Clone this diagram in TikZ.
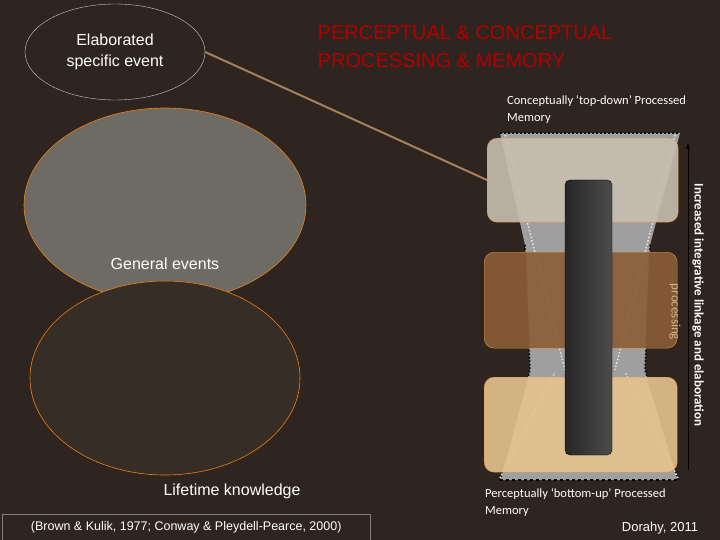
\documentclass[tikz,border=0pt]{standalone}
\usepackage{fontspec}
\usetikzlibrary{shapes.geometric}
\setmainfont{Liberation Sans}
\newfontfamily\cond{Carlito}
\begin{document}
\begin{tikzpicture}[x=1pt,y=-1pt,
  lbl/.style={text=white,font=\fontsize{16}{21}\selectfont,align=center},
  small/.style={text=white,font=\cond\fontsize{12.5}{17}\selectfont,align=left,anchor=north west,inner sep=0},
  lay/.style={rounded corners=10pt,draw=orange!60!brown!80!white,opacity=0.9}]
\definecolor{bg}{HTML}{2E2420}
\definecolor{gev}{HTML}{6E6A64}
\definecolor{ltk}{HTML}{372D27}
\definecolor{bxa}{HTML}{C7BFB0}
\definecolor{bxb}{HTML}{8B5E36}
\definecolor{bxc}{HTML}{E6C38E}
\fill[bg] (0,0) rectangle (720,540);
\useasboundingbox (0,0) rectangle (720,540);
% left ellipses
\node[ellipse,draw=white!75!bg,fill=bg,minimum width=180,minimum height=96,lbl] (es) at (115,52) {Elaborated\\specific event};
\node[ellipse,draw=orange!70!brown,fill=gev,minimum width=282,minimum height=194,line width=0.6pt] (ge) at (165,205) {};
\node[lbl] (get) at (165,264) {General events};
\node[ellipse,draw=orange!70!brown,fill=ltk,minimum width=270,minimum height=194,line width=0.6pt] (lk) at (165,378) {};
\node[lbl] (lkt) at (232,491) {Lifetime knowledge};
\node[draw=gray,text=white,font=\fontsize{12.5}{14}\selectfont,minimum width=368,minimum height=26,anchor=north west] (cite) at (2,514) {(Brown \& Kulik, 1977; Conway \& Pleydell-Pearce, 2000)};
\node[text=red!70!black,font=\fontsize{20}{28}\selectfont,align=left] (title) at (465,47) {PERCEPTUAL \& CONCEPTUAL\\PROCESSING \& MEMORY};
% right diagram
\coordinate (lt) at (487,180);
\fill[gray!75] (500,133)--(680,133)--(650,245)--(645,370)--(678,480)--(500,480)--(530,370)--(525,245)--cycle;
\draw[black,dotted,line width=2pt] (500,133)--(680,133);
\draw[black,dashed,line width=2pt] (500,480)--(678,480);
\draw[black,dotted,line width=1.5pt] (525,245)--(530,370)--(500,480);
\draw[black,dotted,line width=1.5pt] (650,245)--(645,370)--(678,480);
\draw[white!80!gray,dotted,line width=1.5pt] (505,135)--(565,370) (675,135)--(615,370);
\draw[white!80!gray,dotted,line width=1.5pt] (500,478)--(555,372) (678,478)--(625,372);
\node[lay,fill=bxa,minimum width=191,minimum height=84,anchor=north west] (b1) at (487,138) {};
\node[lay,fill=bxb,minimum width=193,minimum height=96,anchor=north west] (b2) at (484,252) {};
\node[lay,fill=bxc,minimum width=193,minimum height=95,anchor=north west] (b3) at (484,377) {};
\draw[draw=brown!60!gray,line width=2pt] (es.east) -- (lt);
\shade[left color=black!85,right color=black!70,rounded corners=5pt,draw=black] (565,180) rectangle (612,455);
\coordinate (ab) at (688,470); \coordinate (at) at (688,143);
\draw[-latex,black,line width=1pt] (ab)--(at);
\node[rotate=-90,text=white,font=\cond\bfseries\fontsize{13}{15}\selectfont] (inc) at (698,305) {Increased integrative linkage and elaboration};
\node[rotate=-90,text=brown!60!white,font=\cond\fontsize{13}{15}\selectfont] (proc) at (675,312) {processing};
\node[small] (cd) at (507,95) {Conceptually ‘top-down’ Processed\\Memory};
\node[small] (bu) at (485,488) {Perceptually ‘bottom-up’ Processed\\Memory};
\node[text=white,font=\fontsize{13}{15}\selectfont] (dor) at (660,528) {Dorahy, 2011};
\end{tikzpicture}
\end{document}
